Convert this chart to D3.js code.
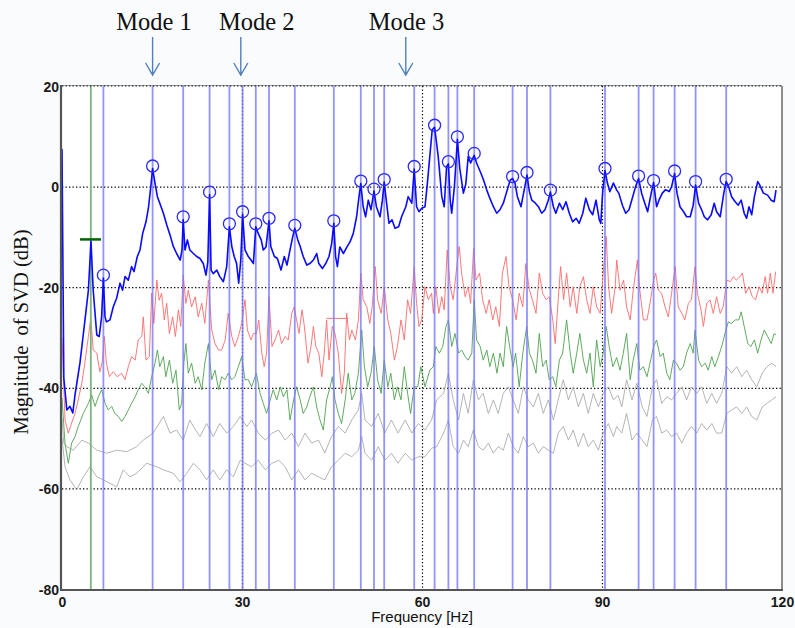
<!DOCTYPE html>
<html>
<head>
<meta charset="utf-8">
<script src="https://cdn.jsdelivr.net/npm/d3@7"></script>
<style>
  html, body { margin: 0; padding: 0; background: #fafbfc; }
  svg { display: block; }
</style>
</head>
<body>
<svg id="chart" width="795" height="628"></svg>
<script>
// ---- Singular value spectra (frequency in Hz, magnitude in dB) ----
const sv1 = [[0,7.5],[0.3,-38],[0.8,-44.4],[1.33,-43.7],[1.8,-45],[2.17,-41.4],[3,-35],[3.83,-26.5],[4.4,-20.6],[4.83,-10.8],[5.2,-20.6],[5.8,-29.5],[6.2,-29.8],[6.6,-25.9],[6.9,-18.2],[7.17,-25.9],[7.4,-26.9],[8.0,-26.5],[8.55,-23.9],[9.1,-22.2],[9.67,-19.2],[10.1,-20.6],[10.5,-17.9],[11.05,-18.6],[11.6,-15.9],[12,-16.9],[12.55,-13.9],[13,-12.6],[13.45,-9.3],[14,-7.0],[14.4,-4.3],[14.8,0],[15.1,3.6],[15.5,0.7],[15.9,-2.0],[16.3,-3.3],[16.9,-5.3],[17.45,-7.6],[18,-9.6],[18.55,-11.9],[19.1,-13.3],[19.7,-14.6],[20.0,-12.6],[20.2,-6.6],[20.5,-12.6],[20.9,-10.6],[21.3,-12.6],[21.9,-13.3],[22.45,-13.9],[23,-14.3],[23.55,-15.3],[24,-17.6],[24.3,-15],[24.6,-1.6],[24.85,-16.6],[25.2,-17.3],[25.8,-16.6],[26.3,-17.9],[26.9,-18.9],[27.45,-15.9],[27.9,-8.0],[28.3,-11.9],[28.7,-13.9],[29.1,-15.3],[29.45,-19.2],[29.8,-14.6],[30.1,-5.5],[30.5,-12.6],[31.05,-13.9],[31.5,-14.6],[31.9,-15.3],[32.3,-8.0],[32.7,-9.3],[33.2,-10.6],[33.55,-12.6],[34,-12],[34.5,-6.8],[34.8,-11.9],[35.4,-13.9],[35.9,-14.3],[36.5,-16.6],[37.05,-13.9],[37.5,-15.6],[38,-12.6],[38.45,-10],[38.8,-8.3],[39.3,-10.6],[39.7,-11.9],[40.2,-13.9],[40.8,-15.6],[41.3,-15.3],[41.9,-14.6],[42.45,-13.3],[42.8,-15.3],[43.4,-16.3],[43.95,-15.3],[44.5,-13.9],[44.95,-11.3],[45.3,-7.3],[45.6,-13.9],[45.9,-15.9],[46.3,-12],[46.9,-13.3],[47.5,-12],[48,-11],[48.55,-9.3],[49.1,-6.0],[49.5,-2.0],[49.8,0.6],[50.2,-4.0],[50.6,-6.0],[51.05,-2.7],[51.5,-4.6],[52.0,-0.9],[52.4,-4],[53,-6.0],[53.4,-2.7],[53.7,0.9],[54.1,-3.3],[54.5,-7.3],[55,-6.6],[55.5,-8.3],[56.1,-8],[56.6,-6.0],[57.3,-4.0],[57.7,-2.0],[58.3,-3.3],[58.7,3.5],[59.1,-4.0],[59.5,-5],[59.95,-4.3],[60.5,-4],[60.9,0.7],[61.3,6],[61.7,11.3],[62.1,11.8],[62.7,6],[63.3,-2.0],[63.7,-4.0],[64.1,4],[64.4,4.5],[64.7,-2.7],[64.95,-5.3],[65.4,0],[65.9,9.4],[66.3,3.6],[66.9,-1.3],[67.3,0.5],[67.7,6],[68.1,4.7],[68.7,6.2],[69.1,4.7],[69.7,3.0],[70.2,1.5],[70.8,-0.7],[71.3,-2.3],[71.9,-4],[72.45,-5.3],[73,-4.6],[73.55,-3.3],[74.2,-0.7],[74.7,1.3],[75.1,1.6],[75.5,0.7],[75.9,-2],[76.5,-4],[76.9,-1.5],[77.5,2.3],[77.9,-1],[78.3,-2.7],[78.9,-3.3],[79.4,-4],[79.95,-5.3],[80.5,-4.6],[81.05,-2.7],[81.4,-1.1],[81.9,-4],[82.3,-5.3],[82.9,-3.3],[83.45,-4.6],[84,-3],[84.55,-5.3],[85.1,-7.0],[85.7,-6.3],[86.2,-7.3],[86.8,-5.3],[87.3,-2.3],[87.9,-4.6],[88.45,-5.6],[89,-2.7],[89.55,-6.6],[89.8,-7.3],[90.1,-1.3],[90.5,3.2],[90.9,0.7],[91.3,-1],[91.9,0.7],[92.45,-0.7],[92.8,-1.3],[93.4,-3.7],[93.95,-5.3],[94.5,-4.6],[95.05,-2.3],[95.6,0],[96.1,1.6],[96.6,-1.3],[97.05,-3],[97.6,-5],[98.2,-1.3],[98.6,0.8],[99.1,-4],[99.5,-2.7],[100.05,-1.3],[100.6,-0.6],[101.2,-1],[101.6,0],[102.1,2.6],[102.5,-1.3],[103,-4],[103.6,-5],[104.1,-6],[104.7,-6],[105.2,-3.7],[105.6,0.3],[106.1,-3.3],[106.6,-4.6],[107.05,-6],[107.6,-6.6],[108.2,-5.6],[108.7,-3.3],[109.1,-5],[109.7,-6],[110.3,-1.3],[110.7,1.0],[111.1,0],[111.6,-2.0],[112.2,-3],[112.7,-3.7],[113.2,-2.7],[113.7,-5.3],[114.1,-6.3],[114.5,-4],[114.95,-5.6],[115.4,-2],[115.95,1.0],[116.3,0.3],[116.9,-1.3],[117.6,-1.7],[118.2,-2.7],[118.7,-3],[119,-0.7]];

const sv2 = [[0,-30],[0.5,-46.4],[1.05,-49],[1.6,-47],[2.17,-45.1],[2.7,-42.4],[3.3,-39.1],[3.8,-35.1],[4.4,-29.8],[4.8,-26.2],[5.2,-32.5],[5.8,-33.1],[6.3,-36.8],[6.7,-35],[7.05,-29.8],[7.4,-35.1],[7.9,-37.8],[8.55,-36.8],[9.2,-37.8],[9.95,-37.1],[10.5,-38.4],[11.05,-35.8],[11.6,-33.8],[12.2,-34.5],[12.7,-30.5],[13.3,-29.8],[13.55,-25.9],[14,-34.5],[14.55,-33.8],[14.95,-21.2],[15.3,-27.2],[15.8,-18.6],[16.2,-22.6],[16.6,-21.2],[17.05,-26.5],[17.45,-23.2],[17.9,-29.2],[18.45,-25.9],[18.9,-29.8],[19.4,-24.5],[19.8,-27.8],[20.2,-17.6],[20.65,-23.2],[21.05,-20.6],[21.6,-23.9],[22.2,-21.9],[22.7,-25.9],[23.3,-23.2],[23.8,-27.2],[24.4,-18.6],[24.95,-28.5],[25.5,-31.2],[26.1,-32.5],[26.6,-32.5],[27.2,-30.5],[27.7,-25.2],[28.3,-29.8],[28.8,-31.8],[29.4,-29.8],[29.95,-27.2],[30.5,-22.5],[30.9,-28.5],[31.5,-30.5],[31.9,-29.2],[32.4,-29.2],[32.8,-26.5],[33.3,-33.1],[33.7,-35.8],[34.1,-33.1],[34.5,-21.9],[35,-31.8],[35.5,-30.5],[36.1,-28.5],[36.6,-31.2],[37.2,-29.8],[37.7,-30.5],[38.3,-25.2],[38.7,-23.9],[39.1,-26.5],[39.5,-29.2],[40,-24.5],[40.4,-27.8],[41,-35.1],[41.5,-31.8],[41.9,-27.8],[42.3,-31.8],[42.8,-33.1],[43.3,-37.8],[43.7,-33.1],[44.1,-26.5],[44.5,-34.5],[45.05,-27.8],[45.5,-29.2],[46.05,-33.1],[46.6,-41.1],[47.05,-37.1],[47.45,-25.2],[47.9,-30.5],[48.3,-28.5],[48.9,-30.5],[49.4,-26.5],[49.8,-17.2],[50.2,-22.5],[50.8,-23.9],[51.3,-27.2],[51.7,-23.9],[52.2,-15.9],[52.6,-22.5],[53.2,-25.2],[53.7,-19.9],[54.3,-26.5],[54.8,-29.2],[55.4,-34.5],[55.9,-31.8],[56.5,-26.5],[57.05,-30.5],[57.6,-22.5],[58.1,-25.2],[58.7,-15.9],[59.1,-23.2],[59.5,-27.8],[59.95,-26.5],[60.5,-19.9],[61.05,-22.5],[61.6,-21.2],[61.9,-25.2],[62.3,-19.9],[62.8,-25.2],[63.3,-21.9],[63.7,-24.5],[64.2,-12.6],[64.7,-19.9],[65.2,-22.5],[65.8,-15.9],[66.2,-11.9],[66.6,-17.2],[67.2,-21.9],[67.7,-19.9],[68.1,-23.2],[68.6,-12.3],[69,-18.6],[69.6,-17.2],[70.1,-22.5],[70.7,-25.2],[71.2,-22.5],[71.8,-26.5],[72.3,-23.9],[72.9,-27.8],[73.4,-17.2],[74,-13.9],[74.5,-19.9],[75.1,-22.5],[75.7,-26.5],[76.2,-21.2],[76.8,-23.9],[77.3,-15.3],[77.9,-20.5],[78.4,-22.5],[79,-25.2],[79.55,-17.2],[80.1,-21.2],[80.7,-22.5],[81.2,-21.9],[81.8,-26.5],[82.2,-31.2],[82.7,-22.5],[83.1,-15.9],[83.6,-22.5],[84.1,-17.2],[84.7,-23.9],[85.2,-19.9],[85.8,-25.2],[86.3,-19.9],[86.9,-17.9],[87.45,-22.5],[88,-25.2],[88.55,-19.9],[89.1,-23.9],[89.7,-25.2],[90.2,-17.2],[90.7,-9.9],[91.1,-19.9],[91.6,-25.2],[92.2,-19.9],[92.45,-14.6],[93,-20.6],[93.6,-18.6],[94.1,-23.9],[94.7,-26.5],[95.2,-20.6],[95.9,-14.6],[96.3,-20.6],[96.9,-26.5],[97.5,-26.5],[98,-23.2],[98.6,-18.6],[98.95,-17.2],[99.4,-20.6],[99.95,-21.2],[100.5,-23.9],[101.05,-25.9],[101.6,-21.2],[102.2,-15.9],[102.7,-23.9],[103.3,-25.2],[103.8,-26.5],[104.4,-23.2],[104.9,-22.5],[105.5,-15.9],[105.9,-21.2],[106.5,-24.5],[106.9,-27.8],[107.45,-23.2],[108,-22.5],[108.55,-25.2],[109.1,-21.9],[109.7,-25.2],[110.2,-23.9],[110.8,-18.6],[111.4,-18.9],[111.9,-17.9],[112.4,-18.6],[113,-17.9],[113.4,-17.2],[113.95,-21.2],[114.5,-19.9],[115.05,-21.9],[115.6,-22.5],[116.2,-19.9],[116.7,-21.2],[117.2,-17.9],[117.6,-21.2],[118.05,-17.2],[118.5,-21.2],[118.95,-16.9]];

const sv3 = [[0,-42],[0.5,-51],[1.05,-55],[1.6,-51],[2.17,-49.7],[2.7,-47.7],[3.55,-45.1],[4.4,-43.1],[4.95,-41.4],[5.5,-43.7],[6.05,-41.8],[6.6,-40.4],[7.2,-43.1],[7.7,-44.4],[8.3,-43.7],[8.8,-45.1],[9.4,-45.7],[9.95,-46.7],[10.5,-45.7],[11.05,-44.4],[11.6,-43.1],[12.2,-41.8],[12.7,-40.4],[13.3,-39.1],[13.8,-39.8],[14.4,-41.1],[14.95,-37.8],[15.5,-35.1],[15.9,-32.5],[16.3,-35.8],[16.9,-33.8],[17.3,-37.8],[17.9,-34.5],[18.45,-39.1],[19,-36.5],[19.55,-44.4],[19.95,-43.1],[20.3,-35.1],[20.65,-31.2],[21.05,-37.1],[21.6,-35.1],[22.2,-39.1],[22.7,-37.8],[23.3,-40.4],[23.8,-35.1],[24.4,-31.2],[24.95,-38.4],[25.5,-36.5],[26.1,-40.4],[26.6,-37.8],[27.2,-38.4],[27.7,-37.1],[28.3,-38.4],[28.8,-37.8],[29.4,-35.8],[29.95,-33.8],[30.5,-38.4],[31.05,-38.4],[31.6,-39.8],[32.4,-37.1],[33,-41.1],[33.55,-43.1],[34.1,-45.1],[34.7,-42.4],[35.2,-40.4],[35.8,-42.4],[36.4,-39.8],[36.9,-41.8],[37.5,-40.4],[38,-46.4],[38.6,-42.4],[39.1,-39.8],[39.7,-42.4],[40.2,-45.1],[40.8,-43.8],[41.3,-41.8],[41.9,-39.8],[42.45,-43.8],[43,-46.4],[43.55,-48.4],[44.1,-42.4],[44.7,-39.8],[45.05,-37.8],[45.5,-42.4],[46.05,-45.1],[46.6,-47.1],[47.2,-42.4],[47.7,-37.1],[48.3,-42.4],[48.8,-41.1],[49.4,-37.1],[49.95,-28.5],[50.4,-35.8],[50.95,-39.8],[51.5,-37.1],[52.05,-31.8],[52.6,-38.4],[53.2,-41.1],[53.7,-34.5],[54.3,-39.8],[54.8,-37.1],[55.4,-42.4],[55.9,-39.8],[56.5,-42.4],[57.05,-35.8],[57.6,-41.1],[58.1,-45.1],[58.7,-39.8],[59.3,-39.8],[59.8,-35.8],[60.5,-39.8],[61.3,-36.5],[61.9,-35.8],[62.3,-31.8],[62.9,-33.1],[63.45,-31.8],[64,-27.8],[64.4,-26.5],[64.95,-31.8],[65.5,-29.2],[66.1,-33.1],[66.6,-32.5],[67.2,-33.8],[67.7,-34.5],[68.3,-33.1],[68.7,-22.5],[69.1,-30.5],[69.7,-31.8],[70.2,-34.5],[70.8,-32.5],[71.3,-35.8],[71.9,-33.1],[72.5,-37.1],[73,-33.1],[73.55,-35.8],[74.1,-27.8],[74.7,-32.5],[75.2,-35.8],[75.6,-33.1],[76.2,-39.8],[76.8,-33.1],[77.45,-27.8],[77.9,-33.1],[78.4,-34.5],[79,-37.1],[79.55,-29.2],[80.1,-35.8],[80.7,-34.5],[81.2,-38.4],[81.8,-37.8],[82.3,-39.8],[82.9,-34.5],[83.45,-33.1],[84.1,-26.5],[84.7,-33.1],[85.2,-37.1],[85.8,-33.1],[86.3,-29.2],[86.9,-34.5],[87.45,-37.1],[88,-33.1],[88.55,-39.8],[89.1,-30.5],[89.7,-35.8],[90.2,-33.1],[90.7,-27.8],[91.2,-31.8],[91.8,-35.8],[92.45,-34],[93,-36.5],[93.55,-33.1],[94.1,-29.2],[94.7,-38.4],[95.2,-34.5],[95.8,-31.2],[96.3,-36.5],[96.9,-35.8],[97.5,-37.8],[98,-35.1],[98.6,-31.8],[99.1,-30.5],[99.7,-33.8],[100.2,-33.1],[100.8,-37.1],[101.3,-38.4],[101.9,-34.5],[102.4,-35.1],[103,-36.5],[103.55,-35.8],[104.1,-33.1],[104.7,-31.2],[105.2,-33.1],[105.5,-28.5],[106.1,-34.5],[106.6,-35.8],[107.2,-35.1],[107.7,-36.5],[108.3,-33.8],[108.8,-35.8],[109.4,-33.8],[109.95,-31.8],[110.5,-29.2],[111.05,-26.9],[111.6,-27.2],[112.2,-26.5],[112.8,-26.5],[113.2,-24.9],[113.7,-27.8],[114.3,-31.2],[114.8,-31.8],[115.4,-30.5],[115.95,-33.1],[116.5,-30.5],[117.05,-28.5],[117.6,-29.8],[118.2,-31.2],[118.7,-29.2],[119,-29.5]];

const sv4 = [[0,-46],[0.3,-51],[0.8,-51.7],[1.9,-52.4],[3.3,-50.4],[4.4,-51],[5.8,-52.4],[7.45,-53],[9.1,-52.4],[10.8,-52.7],[12.45,-51.7],[13.55,-50.4],[15.2,-49],[16.9,-45.7],[18,-49],[19.1,-48.4],[20.2,-50.4],[21.3,-46.4],[21.9,-47.7],[23,-49.7],[24.1,-47.1],[25.2,-49.7],[26.3,-47.1],[27.45,-49],[28.55,-47.7],[29.7,-45.7],[30.8,-47.7],[31.6,-46.4],[32.7,-49],[33.9,-50.4],[35,-49],[36.1,-48.4],[37.2,-50.4],[38.3,-49],[39.4,-51.7],[40.5,-49],[41.6,-51],[42.75,-50.4],[43.8,-53],[44.9,-49.7],[46.05,-47.7],[47.2,-49],[48.3,-46.4],[49.4,-44.4],[49.95,-41.1],[50.5,-46.4],[51.6,-47.7],[52.7,-45.1],[53.8,-49],[54.9,-46.4],[56,-49],[57.2,-46.4],[58.3,-49],[59.4,-47.1],[60.5,-48.4],[61.6,-46.4],[62.45,-42.4],[63.6,-41.1],[64.4,-37.1],[65.2,-42.4],[66.1,-46.4],[66.9,-41.1],[67.7,-45.1],[68.55,-38.4],[69.4,-42.4],[70.2,-41.1],[71.05,-45.1],[71.9,-42.4],[72.7,-45.1],[73.55,-41.1],[74.4,-39.8],[75.2,-42.4],[76.05,-45.1],[76.9,-39.8],[77.7,-42.4],[78.55,-43.8],[79.4,-41.1],[80.2,-45.1],[81.05,-42.4],[81.9,-46.4],[82.7,-42.4],[83.55,-38.4],[84.4,-42.4],[85.2,-39.8],[86.05,-43.8],[86.9,-41.1],[87.7,-45.1],[88.55,-41.1],[89.4,-43.8],[90.2,-41.1],[91.05,-39.8],[91.9,-42.4],[92.7,-41.5],[93.3,-43.8],[94.1,-38.4],[95,-42.4],[95.8,-39.1],[96.7,-43.8],[97.5,-45.7],[98.4,-39.8],[99.1,-38.4],[99.95,-43.1],[100.8,-41.8],[101.6,-42.4],[102.45,-41.1],[103.3,-39.8],[104.1,-42.4],[104.9,-39.8],[105.8,-41.1],[106.6,-39.8],[107.45,-43.1],[108.3,-41.1],[109.1,-43.1],[109.95,-41.1],[110.8,-35.8],[111.6,-37.1],[112.45,-35.8],[113.3,-37.8],[114.1,-36.5],[114.95,-38.4],[115.8,-39.8],[116.7,-37.1],[117.5,-35.8],[118.3,-35.1],[119,-35.8]];

const sv5 = [[0,-50],[0.5,-55.7],[1.33,-58.3],[2.45,-60.3],[3.55,-57.7],[4.67,-55.7],[5.8,-57.7],[6.9,-58.3],[8,-59],[9.1,-59.7],[10.2,-56.3],[11.33,-57.7],[12.45,-57],[14.1,-55],[15.8,-55.7],[16.9,-56.3],[18.55,-57],[19.67,-58.7],[20.8,-57],[21.9,-55],[23,-56.3],[24.1,-58.3],[25.2,-56.3],[26.3,-58.3],[27.45,-56.3],[28.55,-57.7],[29.7,-54.4],[30.5,-55],[31.6,-55.7],[32.7,-54.4],[33.9,-56.3],[35,-55],[36.1,-54.4],[37.2,-55.7],[38.3,-58.3],[39.4,-56.3],[40.5,-58.3],[41.6,-57],[42.75,-57.7],[43.8,-58.3],[44.9,-55.7],[46.05,-54.4],[47.2,-53],[48.3,-53.7],[49.4,-52.4],[49.95,-49.7],[50.5,-53],[51.6,-54.4],[52.7,-51.7],[53.8,-54.4],[54.9,-53],[56,-55],[57.2,-53],[58.3,-54.4],[59.4,-53.7],[60.5,-53.7],[61.6,-52],[62.45,-51.7],[63.6,-49],[64.4,-46.4],[65.2,-51.7],[66.1,-53],[66.9,-50.4],[67.7,-51.7],[68.55,-48.4],[69.4,-51.7],[70.2,-52.4],[71.05,-51],[71.9,-53],[72.7,-51.7],[73.55,-52.4],[74.4,-49],[75.2,-51.7],[76.05,-53],[76.9,-49.7],[77.7,-51.7],[78.55,-51],[79.4,-53],[80.2,-51.7],[81.05,-52.4],[81.9,-53],[82.7,-49],[83.55,-47.7],[84.4,-50.4],[85.2,-48.4],[86.05,-51.7],[86.9,-49],[87.7,-51.7],[88.55,-50.4],[89.4,-52.4],[90.2,-49],[91.05,-47.1],[91.9,-49.7],[92.45,-47.7],[93.3,-49],[94.1,-45.1],[95,-50.4],[95.8,-49],[96.7,-50.4],[97.5,-51.7],[98.4,-46.4],[99.1,-45.7],[99.95,-49],[100.8,-48.4],[101.6,-49.7],[102.45,-49],[103.3,-51],[104.1,-49],[104.9,-47.7],[105.8,-49],[106.6,-47.1],[107.45,-48.4],[108.3,-47.1],[109.1,-49],[109.95,-49],[110.8,-45.1],[111.6,-44.4],[112.45,-43.8],[113.3,-45.1],[114.1,-43.8],[114.95,-45.7],[115.8,-46.4],[116.7,-43.8],[117.5,-43.1],[118.3,-42.4],[119,-41.8]];

// Peaks picked on the first singular value: frequency (Hz) and marker level (dB)
const peakFreq = [6.9, 15.1, 20.2, 24.6, 27.9, 30.1, 32.3, 34.5, 38.8, 45.3, 49.8, 52.0, 53.7, 58.7, 62.1, 64.4, 65.9, 68.7, 75.1, 77.5, 81.4, 90.5, 96.1, 98.6, 102.1, 105.6, 110.7];
const peakDb   = [-17.6, 4.1, -6.0, -1.1, -7.4, -5.0, -7.4, -6.3, -7.7, -6.8, 1.1, -0.5, 1.4, 4.0, 12.2, 4.95, 9.9, 6.6, 2.0, 2.8, -0.7, 3.6, 2.1, 1.2, 3.1, 1.0, 1.45];

// Excluded (harmonic) line and its level marker
const harmonicFreq = 4.8;
const harmonicDb = -10.5;
const harmonicSpan = [3.0, 6.5];

// Cursor cross on the second singular value
const cursorSpan = [44.1, 47.7];
const cursorDb = -26.2;

// Mode annotations
const modeNames = ["Mode 1", "Mode 2", "Mode 3"];
const modeFreq = [15.1, 29.8, 57.3];
const modeLabelFreq = [15.35, 32.45, 57.4];

// Axes
const xTicks = [0, 30, 60, 90, 120];
const yTicks = [20, 0, -20, -40, -60, -80];
const xLabel = "Frequency [Hz]";
const yLabel = "Magnitude\u00a0\u00a0of SVD (dB)";

// ---- drawing ----
const svg = d3.select("#chart");
const pLeft = 62, pRight = 782, pTop = 86, pBottom = 589;

const x = d3.scaleLinear().domain([0, 120]).range([pLeft, pRight]);
const y = d3.scaleLinear().domain([-80, 20]).range([pBottom, pTop]);

svg.append("rect").attr("x", pLeft).attr("y", pTop)
  .attr("width", pRight - pLeft).attr("height", pBottom - pTop).attr("fill", "#ffffff");

svg.append("clipPath").attr("id", "plotclip")
  .append("rect").attr("x", pLeft).attr("y", pTop).attr("width", pRight - pLeft).attr("height", pBottom - pTop);

// dotted grid
const grid = svg.append("g");
grid.selectAll("line.h").data(yTicks.filter(d => d > -80 && d < 20)).join("line")
  .attr("x1", pLeft).attr("x2", pRight)
  .attr("y1", d => y(d) + 0.5).attr("y2", d => y(d) + 0.5)
  .attr("stroke", "#000").attr("stroke-width", 1.2).attr("stroke-dasharray", "1.3,2.2");
grid.selectAll("line.v").data(xTicks.filter(d => d > 0 && d < 120)).join("line")
  .attr("y1", pTop).attr("y2", pBottom)
  .attr("x1", d => x(d) + 0.5).attr("x2", d => x(d) + 0.5)
  .attr("stroke", "#000").attr("stroke-width", 1.2).attr("stroke-dasharray", "1.3,2.2");

const plot = svg.append("g").attr("clip-path", "url(#plotclip)");
const line = d3.line().x(d => x(d[0])).y(d => y(d[1]));

// lower singular values
plot.append("path").datum(sv5).attr("d", line).attr("fill", "none")
  .attr("stroke", "#ababab").attr("stroke-width", 0.9);
plot.append("path").datum(sv4).attr("d", line).attr("fill", "none")
  .attr("stroke", "#ababab").attr("stroke-width", 0.9);
plot.append("path").datum(sv3).attr("d", line).attr("fill", "none")
  .attr("stroke", "#4ea24e").attr("stroke-width", 0.9);
plot.append("path").datum(sv2).attr("d", line).attr("fill", "none")
  .attr("stroke", "#ff6a6a").attr("stroke-width", 0.9);

// cursor cross
plot.append("line").attr("x1", x(cursorSpan[0])).attr("x2", x(cursorSpan[1]))
  .attr("y1", y(cursorDb)).attr("y2", y(cursorDb)).attr("stroke", "#ff7070").attr("stroke-width", 1);

// picked peak lines
plot.selectAll("line.peak").data(peakFreq).join("line")
  .attr("x1", d => x(d)).attr("x2", d => x(d)).attr("y1", pTop).attr("y2", pBottom)
  .attr("stroke", "#7878ff").attr("stroke-width", 1.8).attr("stroke-opacity", 0.8);

// harmonic line
plot.append("line").attr("x1", x(harmonicFreq)).attr("x2", x(harmonicFreq))
  .attr("y1", pTop).attr("y2", pBottom)
  .attr("stroke", "#7cb27c").attr("stroke-width", 1.8);

// first singular value
plot.append("path").datum(sv1).attr("d", line).attr("fill", "none")
  .attr("stroke", "#0a0aff").attr("stroke-width", 1.6).attr("stroke-linejoin", "round");

// harmonic level marker
plot.append("line").attr("x1", x(harmonicSpan[0])).attr("x2", x(harmonicSpan[1]))
  .attr("y1", y(harmonicDb)).attr("y2", y(harmonicDb))
  .attr("stroke", "#006400").attr("stroke-width", 2.5);

// peak circles
plot.selectAll("circle.peak").data(peakFreq).join("circle")
  .attr("cx", d => x(d)).attr("cy", (d, i) => y(peakDb[i])).attr("r", 6)
  .attr("fill", "none").attr("stroke", "#2a2aff").attr("stroke-width", 1.3);

// frame
svg.append("line").attr("x1", pLeft).attr("x2", pRight).attr("y1", pTop - 0.5).attr("y2", pTop - 0.5)
  .attr("stroke", "#9a9a9a").attr("stroke-width", 1);
svg.append("line").attr("x1", pLeft).attr("x2", pRight).attr("y1", pTop).attr("y2", pTop)
  .attr("stroke", "#000").attr("stroke-width", 1.2).attr("stroke-dasharray", "1.3,2.2");
svg.append("line").attr("x1", pRight).attr("x2", pRight).attr("y1", pTop).attr("y2", pBottom)
  .attr("stroke", "#666").attr("stroke-width", 1.5);
svg.append("line").attr("x1", pLeft - 1).attr("x2", pLeft - 1).attr("y1", pTop - 1).attr("y2", pBottom + 1)
  .attr("stroke", "#555").attr("stroke-width", 2.2);
svg.append("line").attr("x1", pLeft - 2).attr("x2", pRight + 1).attr("y1", pBottom + 1).attr("y2", pBottom + 1)
  .attr("stroke", "#555").attr("stroke-width", 2.2);

// tick labels via axes (plain hyphen for negatives)
const plainFmt = d => String(d);
const yAxis = d3.axisLeft(y).tickValues(yTicks).tickSize(0).tickPadding(0).tickFormat(plainFmt);
const gy = svg.append("g").attr("transform", `translate(${pLeft - 3},0)`).call(yAxis);
gy.select(".domain").remove();
gy.selectAll("text").attr("font-family", "Liberation Sans, Arial, sans-serif")
  .attr("font-size", 14).attr("font-weight", "bold").attr("fill", "#1a1a1a").attr("dy", "0.36em");

const xAxis = d3.axisBottom(x).tickValues(xTicks).tickSize(0).tickPadding(0).tickFormat(plainFmt);
const gx = svg.append("g").attr("transform", `translate(0,${pBottom + 7})`).call(xAxis);
gx.select(".domain").remove();
gx.selectAll("text").attr("font-family", "Liberation Sans, Arial, sans-serif")
  .attr("font-size", 14).attr("font-weight", "bold").attr("fill", "#1a1a1a").attr("dy", "0.75em");

// axis titles
svg.append("text").attr("x", x(60)).attr("y", 622).attr("text-anchor", "middle")
  .attr("font-family", "Liberation Sans, Arial, sans-serif").attr("font-size", 15)
  .attr("fill", "#111").text(xLabel);
svg.append("text").attr("transform", "translate(28,332) rotate(-90)").attr("text-anchor", "middle")
  .attr("font-family", "Liberation Serif, Times New Roman, serif").attr("font-size", 20.5)
  .attr("fill", "#111").text(yLabel);

// mode annotations
const modes = svg.append("g");
modeNames.forEach((name, i) => {
  modes.append("text").attr("x", x(modeLabelFreq[i])).attr("y", 30).attr("text-anchor", "middle")
    .attr("font-family", "Liberation Serif, Times New Roman, serif").attr("font-size", 24.5)
    .attr("fill", "#111").text(name);
  const ax = x(modeFreq[i]);
  modes.append("path")
    .attr("d", `M${ax},37 L${ax},75 M${ax - 7},63 L${ax},75 L${ax + 7},63`)
    .attr("fill", "none").attr("stroke", "#4f81bd").attr("stroke-width", 1.4);
});
</script>
</body>
</html>
